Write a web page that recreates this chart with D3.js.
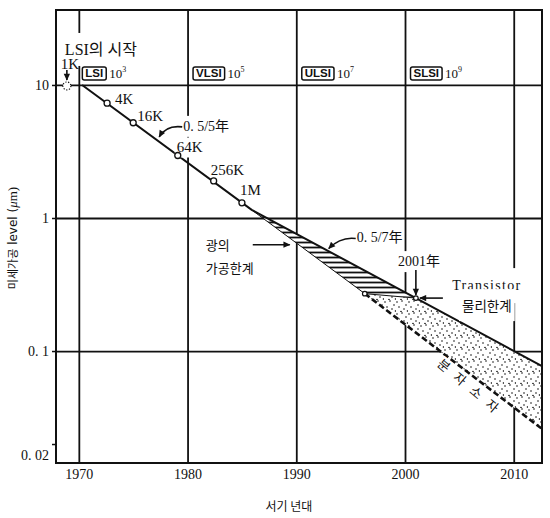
<!DOCTYPE html>
<html>
<head>
<meta charset="utf-8">
<script src="https://cdn.jsdelivr.net/npm/d3@7"></script>
<style>
  body { margin: 0; background: #fff; }
  svg { display: block; }
</style>
</head>
<body>
<div class="chart"></div>
<script>
/* DRAM generations : year and feature size (um) */
var chipLabels = ["1K", "4K", "16K", "64K", "256K", "1M"];
var chipYears = [1968.9, 1972.6, 1975.0, 1979.1, 1982.4, 1985.0];
var chipSizes = [10, 7.3, 5.2, 2.95, 1.9, 1.3];

/* trend line : 0.5 every 5 years, then 0.5 every 7 years */
var trendYears = [1970.3, 1985.9, 2001, 2012.6];
var trendSizes = [10, 1.15, 0.25, 0.077];

/* lower edge of the optical limit (hatched) */
var opticalYears = [1985.9, 1996.3, 2001];
var opticalSizes = [1.15, 0.27, 0.25];

/* lower edge of the molecular device area (dashed) */
var molecularYears = [1996.3, 2012.6];
var molecularSizes = [0.27, 0.026];

/* integration eras */
var eraNames = ["LSI", "VLSI", "ULSI", "SLSI"];
var eraYears = [1970, 1980, 1990, 2000];
var eraExps = ["3", "5", "7", "9"];

/* ticks */
var yearTicks = [1970, 1980, 1990, 2000, 2010];
var sizeTicks = [10, 1, 0.1, 0.02];
var sizeTickLabels = ["10", "1", "0. 1", "0. 02"];
var gridSizes = [10, 1, 0.1];

var serif = "'Liberation Serif', 'Noto Sans CJK KR', serif";
var kor = "'Noto Sans CJK KR', sans-serif";

function drawChart() {
  var canvas_width = 550,
      canvas_height = 518;

  var svg = d3.select(".chart")
    .append("svg")
      .attr("width", canvas_width)
      .attr("height", canvas_height);

  var x = d3.scaleLinear().domain([1967.9, 2012.6]).range([56, 542]);
  var y = d3.scaleLog().domain([0.0144, 36.6]).range([463, 10]);

  var left = x.range()[0], right = x.range()[1],
      top = y.range()[1], bottom = y.range()[0];

  /* patterns and arrow head */
  var defs = svg.append("defs");
  var hatch = defs.append("pattern")
    .attr("id", "hatch")
    .attr("patternUnits", "userSpaceOnUse")
    .attr("width", 10).attr("height", 5);
  hatch.append("rect").attr("width", 10).attr("height", 5).attr("fill", "#fff");
  hatch.append("line")
    .attr("x1", 0).attr("x2", 10).attr("y1", 2.5).attr("y2", 2.5)
    .attr("stroke", "#111").attr("stroke-width", 1.8);

  var dots = defs.append("pattern")
    .attr("id", "dots")
    .attr("patternUnits", "userSpaceOnUse")
    .attr("width", 12).attr("height", 12);
  dots.append("rect").attr("width", 12).attr("height", 12).attr("fill", "#fff");
  [[1, 2], [6, 1], [10, 5], [3, 7], [8, 9], [5, 11.5], [11.5, 11]].forEach(function(p) {
    dots.append("circle").attr("cx", p[0]).attr("cy", p[1]).attr("r", 0.8).attr("fill", "#111");
  });

  defs.append("marker")
    .attr("id", "arrow")
    .attr("viewBox", "0 0 10 10")
    .attr("refX", 9).attr("refY", 5)
    .attr("markerUnits", "userSpaceOnUse")
    .attr("markerWidth", 8).attr("markerHeight", 7)
    .attr("orient", "auto")
    .append("path")
      .attr("d", "M0,0.5 L10,5 L0,9.5 z")
      .attr("fill", "#111");

  /* grid lines */
  svg.append("g")
    .attr("transform", "translate(0," + bottom + ")")
    .call(d3.axisBottom(x).tickValues(yearTicks).tickSize(-(bottom - top)).tickFormat(""))
    .call(function(g) { g.select(".domain").remove(); })
    .selectAll("line").attr("stroke", "#111").attr("stroke-width", 1.8);

  svg.append("g")
    .attr("transform", "translate(" + left + ",0)")
    .call(d3.axisLeft(y).tickValues(gridSizes).tickSize(-(right - left)).tickFormat(""))
    .call(function(g) { g.select(".domain").remove(); })
    .selectAll("line").attr("stroke", "#111").attr("stroke-width", 1.8);

  var line = d3.line()
    .x(function(d) { return x(d[0]); })
    .y(function(d) { return y(d[1]); });

  /* hatched : optical limit */
  var hatchPts = [
    [trendYears[1], trendSizes[1]], [trendYears[2], trendSizes[2]],
    [opticalYears[2], opticalSizes[2]], [opticalYears[1], opticalSizes[1]], [opticalYears[0], opticalSizes[0]]
  ];
  svg.append("path")
    .attr("d", line(hatchPts) + "Z")
    .attr("fill", "url(#hatch)");

  /* dotted : molecular devices */
  var dotPts = [
    [opticalYears[1], opticalSizes[1]], [opticalYears[2], opticalSizes[2]],
    [trendYears[3], trendSizes[3]], [molecularYears[1], molecularSizes[1]], [molecularYears[0], molecularSizes[0]]
  ];
  svg.append("path")
    .attr("d", line(dotPts) + "Z")
    .attr("fill", "url(#dots)");

  svg.append("path")
    .attr("d", line(d3.zip(opticalYears, opticalSizes)))
    .attr("fill", "none").attr("stroke", "#111").attr("stroke-width", 1);

  svg.append("path")
    .attr("d", line(d3.zip(molecularYears, molecularSizes)))
    .attr("fill", "none").attr("stroke", "#111")
    .attr("stroke-width", 2.6).attr("stroke-dasharray", "6,3");

  svg.append("path")
    .attr("d", line(d3.zip(trendYears, trendSizes)))
    .attr("fill", "none").attr("stroke", "#111").attr("stroke-width", 2);

  /* frame */
  svg.append("rect")
    .attr("x", left).attr("y", top)
    .attr("width", right - left).attr("height", bottom - top)
    .attr("fill", "none").attr("stroke", "#111").attr("stroke-width", 2);

  /* axes labels */
  var yAxis = svg.append("g")
    .attr("transform", "translate(" + left + ",0)")
    .call(d3.axisLeft(y).tickValues(sizeTicks).tickSize(4).tickPadding(3)
      .tickFormat(function(d, i) { return sizeTickLabels[i]; }));
  yAxis.select(".domain").remove();
  yAxis.selectAll("line").attr("stroke", "#111").attr("stroke-width", 1.5);
  yAxis.selectAll("text")
    .attr("font-family", serif).attr("font-size", 14).attr("fill", "#111")
    .attr("dy", function(d) { return d === 0.02 ? "1.1em" : "0.32em"; });

  var xAxis = svg.append("g")
    .attr("transform", "translate(0," + bottom + ")")
    .call(d3.axisBottom(x).tickValues(yearTicks).tickSize(0).tickPadding(6).tickFormat(d3.format("d")));
  xAxis.select(".domain").remove();
  xAxis.selectAll("text").attr("font-family", serif).attr("font-size", 14).attr("fill", "#111");

  var yTitle = svg.append("text")
    .attr("transform", "translate(17," + 238 + ") rotate(-90)")
    .attr("text-anchor", "middle")
    .attr("fill", "#111");
  yTitle.append("tspan").attr("font-family", kor).attr("font-size", 11).text("미세가공");
  yTitle.append("tspan").attr("font-family", "'DejaVu Sans', sans-serif").attr("font-size", 12).text(" level (");
  yTitle.append("tspan").attr("font-family", serif).attr("font-size", 13).attr("font-style", "italic").text("μ");
  yTitle.append("tspan").attr("font-family", serif).attr("font-size", 13).text("m)");

  svg.append("text")
    .attr("x", 289).attr("y", 511)
    .attr("text-anchor", "middle")
    .attr("font-family", kor).attr("font-size", 12)
    .attr("fill", "#111")
    .text("서기 년대");

  /* text helper with white background */
  var notes = svg.append("g").attr("fill", "#111");
  function whiteBox(t, px, py) {
    var b = t.node().getBBox();
    notes.insert("rect", function() { return t.node(); })
      .attr("x", b.x - px).attr("y", b.y - py)
      .attr("width", b.width + 2 * px).attr("height", b.height + 2 * py)
      .attr("fill", "#fff");
  }
  function arrow(d) {
    notes.append("path")
      .attr("d", d)
      .attr("fill", "none").attr("stroke", "#111").attr("stroke-width", 1.6)
      .attr("marker-end", "url(#arrow)");
  }

  /* start of LSI */
  var lsiStart = notes.append("text")
    .attr("x", x(chipYears[0]) - 2).attr("y", y(10) - 30)
    .attr("font-family", serif).attr("font-size", 16)
    .text("LSI의 시작");
  whiteBox(lsiStart, 3, 8);

  /* chip markers */
  var chipOffsets = [[3, -16], [8, 1], [4, -2], [-1, -3], [-3, -6], [-2, -8]];
  var chips = d3.zip(chipYears, chipSizes, chipLabels, chipOffsets);
  svg.selectAll(".chip")
    .data(chips.slice(1))
    .enter()
      .append("circle")
        .attr("cx", function(d) { return x(d[0]); })
        .attr("cy", function(d) { return y(d[1]); })
        .attr("r", 3)
        .attr("fill", "#fff").attr("stroke", "#111").attr("stroke-width", 1.3);
  svg.append("circle")
    .attr("cx", x(chipYears[0])).attr("cy", y(chipSizes[0]) + 1)
    .attr("r", 4)
    .attr("fill", "#fff").attr("stroke", "#111").attr("stroke-width", 1.2)
    .attr("stroke-dasharray", "1.2,1.6");

  chips.forEach(function(d, i) {
    var t = notes.append("text")
      .attr("x", x(d[0]) + d[3][0]).attr("y", y(d[1]) + d[3][1])
      .attr("text-anchor", i === 0 ? "middle" : "start")
      .attr("font-family", serif).attr("font-size", 15)
      .text(d[2]);
    if (i === 3) whiteBox(t, 2, 2);
  });
  arrow("M" + x(chipYears[0]) + "," + (y(chipSizes[0]) - 15) + "V" + (y(chipSizes[0]) - 5));

  /* era boxes */
  eraNames.forEach(function(name, i) {
    var bx = x(eraYears[i]) + (i === 0 ? 3.5 : 5.5);
    var t = notes.append("text")
      .attr("x", bx + 3).attr("y", y(10) - 8)
      .attr("font-family", "'Liberation Sans', sans-serif")
      .attr("font-weight", "bold").attr("font-size", 11.5)
      .text(name);
    var b = t.node().getBBox();
    notes.insert("rect", function() { return t.node(); })
      .attr("x", bx).attr("y", y(10) - 18)
      .attr("width", b.width + 6).attr("height", 13).attr("rx", 2)
      .attr("fill", "#fff").attr("stroke", "#111").attr("stroke-width", 1.5);
    var e = notes.append("text")
      .attr("x", bx + b.width + 9).attr("y", y(10) - 7)
      .attr("font-family", serif).attr("font-size", 13)
      .text("10");
    e.append("tspan").attr("font-size", 8).attr("dy", -6).text(eraExps[i]);
  });

  /* 0.5/5年 */
  var a5 = [1977.3, 3.8];
  var t5 = notes.append("text")
    .attr("x", x(a5[0]) + 25).attr("y", y(a5[1]) - 10)
    .attr("font-family", serif).attr("font-size", 14)
    .text("0. 5/5年");
  whiteBox(t5, 2, 3);
  arrow("M" + (x(a5[0]) + 24) + "," + (y(a5[1]) - 14) +
        "Q" + (x(a5[0]) + 8) + "," + (y(a5[1]) - 16) + " " + (x(a5[0]) + 1) + "," + (y(a5[1]) - 4));

  /* 0.5/7年 */
  var a7 = [1992.8, 0.57];
  notes.append("text")
    .attr("x", x(a7[0]) + 30).attr("y", y(a7[1]) - 8)
    .attr("font-family", serif).attr("font-size", 14)
    .text("0. 5/7年");
  arrow("M" + (x(a7[0]) + 29) + "," + (y(a7[1]) - 12) +
        "Q" + (x(a7[0]) + 14) + "," + (y(a7[1]) - 14) + " " + (x(a7[0]) + 2) + "," + (y(a7[1]) - 2));

  /* 광의 가공한계 */
  var ao = [1989.4, 0.63];
  notes.append("text")
    .attr("x", x(ao[0]) - 84).attr("y", y(ao[1]) + 5)
    .attr("font-family", kor).attr("font-size", 13)
    .text("광의");
  notes.append("text")
    .attr("x", x(ao[0]) - 84).attr("y", y(ao[1]) + 28)
    .attr("font-family", kor).attr("font-size", 13)
    .text("가공한계");
  arrow("M" + (x(ao[0]) - 37) + "," + y(ao[1]) + "H" + x(ao[0]));

  /* 2001年 and transistor limit */
  var p01 = [trendYears[2], trendSizes[2]];
  var t01 = notes.append("text")
    .attr("x", x(p01[0]) + 3).attr("y", y(p01[1]) - 32)
    .attr("text-anchor", "middle")
    .attr("font-family", serif).attr("font-size", 14)
    .text("2001年");
  whiteBox(t01, 2, 3);
  arrow("M" + x(p01[0]) + "," + (y(p01[1]) - 28) + "V" + (y(p01[1]) - 3));
  arrow("M" + (x(p01[0]) + 27) + "," + y(p01[1]) + "H" + (x(p01[0]) + 4));

  var tr = notes.append("text")
    .attr("x", x(p01[0]) + 71).attr("y", y(p01[1]) - 8)
    .attr("text-anchor", "middle")
    .attr("font-family", serif).attr("font-size", 14).attr("letter-spacing", 1.3)
    .text("Transistor");
  whiteBox(tr, 3, 10);
  var tr2 = notes.append("text")
    .attr("x", x(p01[0]) + 71).attr("y", y(p01[1]) + 13)
    .attr("text-anchor", "middle")
    .attr("font-family", kor).attr("font-size", 13.5)
    .text("물리한계");
  whiteBox(tr2, 3, 6);

  [[opticalYears[1], opticalSizes[1]], p01].forEach(function(p) {
    svg.append("circle")
      .attr("cx", x(p[0])).attr("cy", y(p[1]))
      .attr("r", 2.3)
      .attr("fill", "#fff").attr("stroke", "#111").attr("stroke-width", 1.2);
  });

  /* 분자소자 along the dotted band */
  var am = [2006.1, 0.052];
  svg.append("text")
    .attr("transform", "translate(" + x(am[0]) + "," + y(am[1]) + ") rotate(40)")
    .attr("text-anchor", "middle").attr("dy", "0.35em")
    .attr("font-family", kor).attr("font-size", 13).attr("letter-spacing", 9)
    .attr("fill", "#111")
    .attr("stroke", "#fff").attr("stroke-width", 4).attr("paint-order", "stroke")
    .text("분자소자");
}

drawChart();
</script>
</body>
</html>
